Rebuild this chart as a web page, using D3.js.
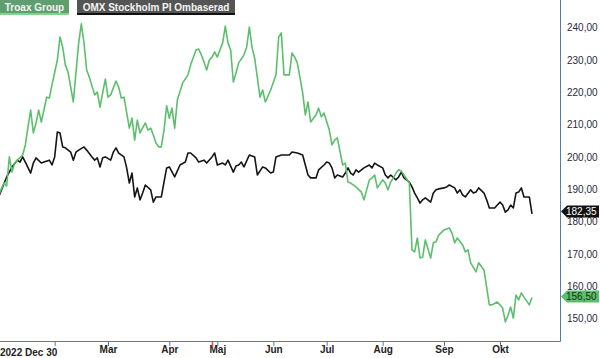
<!DOCTYPE html>
<html><head><meta charset="utf-8">
<script src="https://cdn.jsdelivr.net/npm/d3@7"></script>
<style>body{margin:0;background:#fff}svg{display:block}</style>
</head><body>
<svg id="c" width="600" height="358"></svg>
<script>
// trading-day index since 2022-12-30 and values
const troaxDay = [1,3,4,5,6,7,8,10,11,12,13,14,15,16,17,19,20,21,23,24,25,26,27,29,31,32,33,34,35,37,38,39,40,41,42,43,45,46,47,48,50,51,52,53,54,56,57,58,59,60,61,62,63,64,65,66,67,68,70,72,73,75,76,77,78,79,80,81,82,83,85,86,87,88,89,90,91,93,94,95,96,97,99,100,101,103,105,106,107,108,110,111,112,113,115,116,117,118,120,121,122,123,125,126,127,128,130,131,132,133,135,137,138,140,141,142,143,145,146,147,148,150,151,152,153,155,156,157,158,159,160,161,163,164,165,166,168,170,171,172,173,175,176,177,178,180,181,183,185,186,188,190,191,192,193,194,195,196,197,198,200,201];
const troaxVal = [188.2,192.0,191.0,200.0,195.3,198.1,199.0,200.6,203.7,209.3,214.5,207.4,210.5,214.5,210.8,218.5,218.2,222.3,230.0,237.1,234.0,228.5,226.3,217.0,235.3,241.2,235.3,226.9,224.7,219.2,220.1,215.4,219.8,224.1,218.5,219.2,223.5,221.6,218.2,218.5,208.9,212.0,205.2,211.4,207.4,210.5,208.3,208.9,206.8,204.3,203.1,203.1,208.3,215.8,212.0,215.1,208.9,217.6,222.9,225.4,228.5,233.1,233.4,231.6,229.4,226.9,230.0,230.9,232.5,230.9,235.3,240.5,235.3,233.1,223.2,226.0,229.1,231.6,234.0,240.2,234.0,230.6,218.5,220.7,217.0,220.7,225.4,237.1,238.4,225.4,225.4,232.2,230.9,229.1,219.8,213.0,217.0,210.8,213.0,215.1,212.4,213.6,208.3,203.7,205.2,205.9,197.5,198.1,192.2,191.9,190.7,189.1,186.7,192.9,193.5,194.4,190.4,192.9,191.9,189.8,192.2,195.0,196.0,195.6,194.4,191.9,171.2,170.6,174.9,168.7,169.0,174.3,168.7,173.4,173.7,175.8,177.4,178.0,176.4,173.4,174.9,172.7,170.6,171.2,167.2,164.4,167.2,165.0,154.2,154.2,155.1,153.2,148.9,151.0,153.5,150.1,157.2,155.7,157.9,156.6,154.2,156.5];
const omxDay = [1,4,5,6,8,9,10,11,13,14,15,17,18,20,21,22,23,24,25,26,28,29,30,31,33,34,36,37,38,39,40,41,43,44,45,46,48,49,50,51,52,53,54,55,56,58,59,60,62,63,64,65,67,69,71,72,73,75,76,78,79,81,82,83,85,86,87,89,90,91,92,93,95,97,98,100,101,103,104,105,107,108,110,111,113,115,116,117,118,120,121,123,124,125,126,127,128,130,131,132,133,134,135,136,138,140,141,142,143,145,146,147,148,150,151,152,153,155,156,157,158,159,160,161,163,164,165,166,168,169,170,172,173,174,175,176,178,179,180,181,183,184,185,187,188,189,190,191,192,193,194,195,196,197,198,200,201];
const omxVal = [187.6,193.8,195.3,196.9,199.0,198.4,200.0,198.4,195.0,198.1,199.7,198.1,198.4,199.0,197.5,200.0,207.7,207.4,203.1,202.8,201.5,199.0,201.5,202.1,203.1,202.1,200.0,199.0,199.7,196.9,199.7,200.0,199.0,201.5,202.8,201.2,200.0,196.6,191.9,195.0,187.6,190.4,186.7,188.8,191.3,189.8,186.0,187.6,187.6,192.2,196.6,196.9,193.8,197.5,198.4,201.2,201.2,199.7,198.4,199.0,198.1,200.0,201.2,197.5,198.1,197.5,199.0,195.3,197.2,197.5,198.4,196.9,200.6,200.0,194.4,196.9,196.6,195.0,195.3,200.0,200.6,200.6,200.6,201.5,201.2,200.6,197.5,194.4,193.5,193.5,196.0,197.5,198.4,198.1,196.6,193.5,194.4,193.8,195.0,196.6,195.0,194.4,196.0,195.3,196.6,197.5,196.6,198.1,197.5,196.6,194.4,193.5,194.4,192.9,193.8,195.3,193.5,192.2,190.7,188.8,187.3,185.7,186.7,187.3,186.0,188.8,189.8,190.1,190.4,190.7,191.3,190.4,188.8,189.8,188.2,187.6,189.8,188.8,189.1,190.4,188.8,186.7,184.2,184.2,185.1,186.0,185.1,182.9,183.6,185.1,184.2,188.8,189.1,190.4,187.6,187.6,182.35];
const monthDay = [22,42,65,83,104,124,145,168,189];
const monthLabel = ["","Mar","Apr","Maj","Jun","Jul","Aug","Sep","Okt"];
const startLabel = "2022 Dec 30";
const markerDay = [81];
const yTicks = [150,160,170,180,190,200,210,220,230,240];
const seriesNames = ["Troax Group","OMX Stockholm PI Ombaserad"];
const lastTroax = 156.50, lastOmx = 182.35;

const svg = d3.select("#c");
const W = 560, H = 341;
const FONT = "Liberation Sans, Arial, sans-serif";
const x = d3.scaleLinear().domain([0, 211.5]).range([-4, 560]);
const y = d3.scaleLinear().domain([150, 240]).range([318.4, 27.7]);
const fmt = v => d3.format(".2f")(v).replace(".", ",");
const green = "#5bbf6c", black = "#151515", axisCol = "#4f7fa3";

svg.append("defs").append("clipPath").attr("id","clip")
  .append("rect").attr("x",0).attr("y",0).attr("width",W).attr("height",H);

const line = d3.line().x(d => x(d[0])).y(d => y(d[1]));
const g = svg.append("g").attr("clip-path","url(#clip)");
g.append("path").datum(omxDay.map((d,i)=>[d,omxVal[i]]))
  .attr("d", line).attr("fill","none").attr("stroke",black).attr("stroke-width",1.6).attr("stroke-linejoin","round");
g.append("path").datum(troaxDay.map((d,i)=>[d,troaxVal[i]]))
  .attr("d", line).attr("fill","none").attr("stroke",green).attr("stroke-width",1.6).attr("stroke-linejoin","round");

// frame
svg.append("line").attr("x1",W+0.5).attr("x2",W+0.5).attr("y1",0).attr("y2",H+0.5).attr("stroke",axisCol).attr("stroke-width",1);
svg.append("line").attr("x1",0).attr("x2",W+0.5).attr("y1",H+0.5).attr("y2",H+0.5).attr("stroke",axisCol).attr("stroke-width",1);

// x axis
const xa = svg.append("g").attr("transform",`translate(0,${H})`)
  .call(d3.axisBottom(x).tickValues(monthDay).tickSize(5).tickFormat((d,i)=>monthLabel[i]));
xa.select(".domain").remove();
xa.selectAll(".tick line").attr("stroke",axisCol);
xa.selectAll(".tick text").attr("font-family",FONT).attr("font-size",10)
  .attr("font-weight","bold").attr("fill","#222").attr("dy","0.6em").attr("y",6);
svg.append("g").selectAll("line").data(markerDay).join("line")
  .attr("x1",d=>Math.round(x(d))+0.5).attr("x2",d=>Math.round(x(d))+0.5).attr("y1",H+1).attr("y2",H+6)
  .attr("stroke","#e8484a").attr("stroke-width",1.5);
svg.append("text").attr("x",0).attr("y",356).text(startLabel)
  .attr("font-family",FONT).attr("font-size",10).attr("font-weight","bold").attr("fill","#222");

// y axis
const ya = svg.append("g").attr("transform",`translate(${W},0)`)
  .call(d3.axisRight(y).tickValues(yTicks).tickSize(0).tickPadding(7).tickFormat(fmt));
ya.select(".domain").remove();
ya.selectAll(".tick text").attr("font-family",FONT).attr("font-size",10).attr("fill","#2a2a3a");

// end badges
function badge(v, bg, fg, shift){
  const cy = y(v) + shift, h = 12, x0 = W+1, w = 38;
  svg.append("path").attr("d",`M${x0},${cy} L${x0+6},${cy-h/2} L${x0+w},${cy-h/2} L${x0+w},${cy+h/2} L${x0+6},${cy+h/2} Z`).attr("fill",bg);
  svg.append("text").attr("x",x0+5).attr("y",cy).attr("dy","0.36em").text(fmt(v))
    .attr("font-family",FONT).attr("font-size",10).attr("fill",fg);
}
badge(lastOmx, "#111", "#fff", -2.5);
badge(lastTroax, green, "#1a2a1a", -1);

// legend
const lg = svg.append("g");
const items = [{t:seriesNames[0], x:0, w:69, bg:"#5f9e6e", bb:"#80d48e"},{t:seriesNames[1], x:77, w:158, bg:"#555555", bb:"#111"}];
items.forEach(it=>{
  lg.append("rect").attr("x",it.x).attr("y",0).attr("width",it.w).attr("height",13).attr("fill",it.bg);
  lg.append("rect").attr("x",it.x).attr("y",13).attr("width",it.w).attr("height",2).attr("fill",it.bb);
  lg.append("text").attr("x",it.x+it.w/2).attr("y",10.5).attr("text-anchor","middle").text(it.t)
    .attr("font-family",FONT).attr("font-size",10).attr("font-weight","bold").attr("fill","#f4f4f4");
});
</script>
</body></html>
